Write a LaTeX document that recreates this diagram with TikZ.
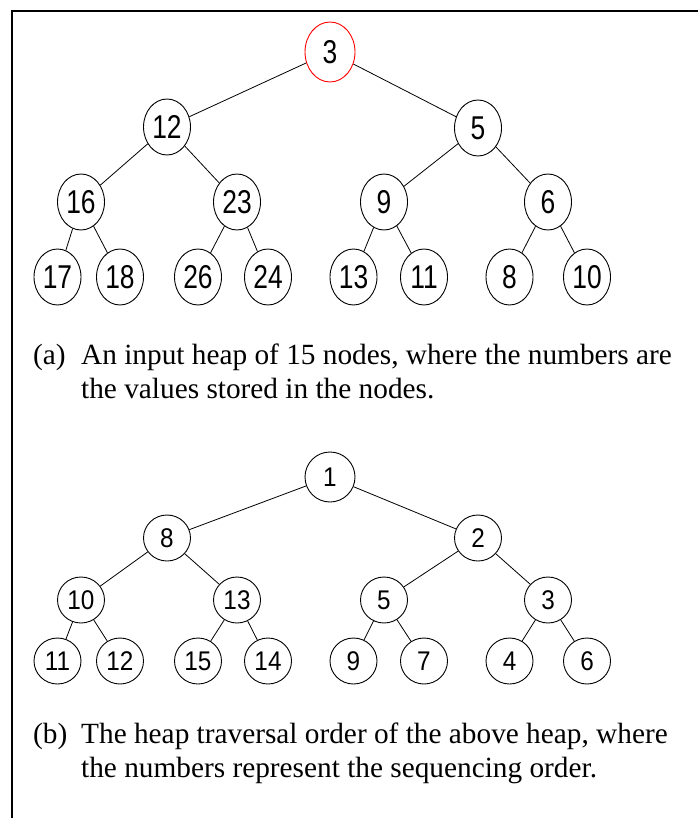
\documentclass[tikz,border=0pt]{standalone}
\usepackage{graphicx}
\usepackage{fontspec}
\setmainfont{Liberation Serif}
\newfontfamily\numfont{Liberation Sans}
\usetikzlibrary{shapes.geometric}
% narrow digits inside the heap nodes
\newcommand\narA[1]{\scalebox{0.8}[1]{#1}}
\newcommand\narB[1]{\scalebox{0.9}[1]{#1}}

\begin{document}
\begin{tikzpicture}[x=1pt,y=-1pt,
  hnode/.style={ellipse, draw, line width=0.9pt, inner sep=0pt,
    minimum width=47pt, minimum height=56pt,
    font=\numfont\fontsize{33}{33}\selectfont},
  hroot/.style={hnode, draw=red, minimum width=50pt, minimum height=60pt},
  tnode/.style={ellipse, draw, line width=0.9pt, inner sep=0pt,
    minimum width=47pt, minimum height=46pt,
    font=\numfont\fontsize{27}{27}\selectfont},
  troot/.style={tnode, minimum width=50pt, minimum height=50pt},
  link/.style={line width=0.8pt},
  captext/.style={font=\fontsize{29.3}{34}\selectfont, anchor=base west, inner sep=0pt}]

\useasboundingbox (0,0) rectangle (698,818);

% frame
\draw[line width=1.6pt] (698,11) -- (12,11) -- (12,818);

% ---- heap of values ----
\node[hroot] (a3) at (330,52) {\narA{3}};
\node[hnode] (a12) at (167,127) {\narA{12}};
\node[hnode] (a5) at (478,128) {\narA{5}};
\node[hnode] (a16) at (81,202) {\narA{16}};
\node[hnode] (a23) at (237,202) {\narA{23}};
\node[hnode] (a9) at (384,202) {\narA{9}};
\node[hnode] (a6) at (548,202) {\narA{6}};
\node[hnode] (a17) at (57.5,277) {\narA{17}};
\node[hnode] (a18) at (120,277) {\narA{18}};
\node[hnode] (a26) at (198,277) {\narA{26}};
\node[hnode] (a24) at (268,277) {\narA{24}};
\node[hnode] (a13) at (353.5,277) {\narA{13}};
\node[hnode] (a11) at (424,277) {\narA{11}};
\node[hnode] (a8) at (509.5,277) {\narA{8}};
\node[hnode] (a10) at (587,277) {\narA{10}};

\draw[link] (a3) -- (a12);
\draw[link] (a3) -- (a5);
\draw[link] (a12) -- (a16);
\draw[link] (a12) -- (a23);
\draw[link] (a5) -- (a9);
\draw[link] (a5) -- (a6);
\draw[link] (a16) -- (a17);
\draw[link] (a16) -- (a18);
\draw[link] (a23) -- (a26);
\draw[link] (a23) -- (a24);
\draw[link] (a9) -- (a13);
\draw[link] (a9) -- (a11);
\draw[link] (a6) -- (a8);
\draw[link] (a6) -- (a10);

\node[captext] (capaL) at (33,364) {(a)};
\node[captext] (capa1) at (81,364) {An input heap of 15 nodes, where the numbers are};
\node[captext] (capa2) at (81,398) {the values stored in the nodes.};

% ---- traversal order ----
\node[troot] (b1) at (330,477) {\narB{1}};
\node[tnode] (b8) at (167,538) {\narB{8}};
\node[tnode] (b2) at (478,538) {\narB{2}};
\node[tnode] (b10) at (81,600) {\narB{10}};
\node[tnode] (b13) at (237,600) {\narB{13}};
\node[tnode] (b5) at (384,600) {\narB{5}};
\node[tnode] (b3) at (548,600) {\narB{3}};
\node[tnode] (b11) at (57.5,661) {\narB{11}};
\node[tnode] (b12) at (120,661) {\narB{12}};
\node[tnode] (b15) at (198,661) {\narB{15}};
\node[tnode] (b14) at (268,661) {\narB{14}};
\node[tnode] (b9) at (353.5,661) {\narB{9}};
\node[tnode] (b7) at (424,661) {\narB{7}};
\node[tnode] (b4) at (509.5,661) {\narB{4}};
\node[tnode] (b6) at (587,661) {\narB{6}};

\draw[link] (b1) -- (b8);
\draw[link] (b1) -- (b2);
\draw[link] (b8) -- (b10);
\draw[link] (b8) -- (b13);
\draw[link] (b2) -- (b5);
\draw[link] (b2) -- (b3);
\draw[link] (b10) -- (b11);
\draw[link] (b10) -- (b12);
\draw[link] (b13) -- (b15);
\draw[link] (b13) -- (b14);
\draw[link] (b5) -- (b9);
\draw[link] (b5) -- (b7);
\draw[link] (b3) -- (b4);
\draw[link] (b3) -- (b6);

\node[captext] (capbL) at (33,743) {(b)};
\node[captext] (capb1) at (81,743) {The heap traversal order of the above heap, where};
\node[captext] (capb2) at (81,777) {the numbers represent the sequencing order.};

\end{tikzpicture}
\end{document}
